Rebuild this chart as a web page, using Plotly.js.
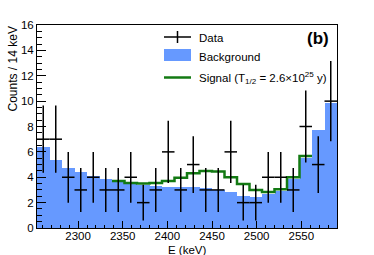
<!DOCTYPE html>
<html>
<head>
<meta charset="utf-8">
<script src="https://cdn.plot.ly/plotly-3.0.1.min.js"></script>
<style>html,body{margin:0;padding:0;background:#fff;}#chart{width:374px;height:255px;}</style>
</head>
<body>
<div id="chart"></div>
<script>
// ---- data ----
const binWidth = 14; // keV
const energy = [2261, 2275, 2289, 2303, 2317, 2331, 2345, 2359, 2373, 2387, 2401, 2415,
                2429, 2443, 2457, 2471, 2485, 2499, 2513, 2527, 2541, 2555, 2569, 2583];
const dataCounts = [7, 7, 4, 3, 4, 3, 3, 4, 2, 3, 6, 3, 5, 3, 3, 6, 2, 2, 4, 4, 3, 8, 5, 10];
const background = [6.4, 5.36, 4.75, 4.39, 4.1, 3.86, 3.6, 3.45, 3.38, 3.3, 3.25, 3.25,
                    3.25, 3.15, 3.0, 2.8, 2.55, 2.45, 2.65, 2.95, 3.9, 5.55, 7.75, 9.82];
const signalEnergy = [2345, 2359, 2373, 2387, 2401, 2415, 2429, 2443, 2457, 2471, 2485,
                      2499, 2513, 2527, 2541, 2555];
const signalTotal = [3.7, 3.55, 3.5, 3.55, 3.7, 3.97, 4.32, 4.5, 4.45, 4.0, 3.47,
                     3.0, 2.83, 3.06, 4.0, 5.67];
const xTicks = [2300, 2350, 2400, 2450, 2500, 2550];
const yTicks = [0, 2, 4, 6, 8, 10, 12, 14, 16];
const legendLabels = ['Data', 'Background', 'Signal (T<sub>1/2</sub> = 2.6×10<sup>25</sup> y)'];

// ---- style ----
const FONT = 'Liberation Sans, Arial, Helvetica, sans-serif';
const BLUE = '#6699ff';
const GREEN = '#137a13';
const W = 374, H = 255;
const M = {l: 37, r: 37, t: 25, b: 27};
const pw = W - M.l - M.r, ph = H - M.t - M.b;
const px = X => (X - M.l) / pw;
const py = Y => (H - M.b - Y) / ph;

// step line for signal: left edges + final right edge
const sigX = signalEnergy.map(e => e - binWidth / 2).concat([signalEnergy[signalEnergy.length - 1] + binWidth / 2]);
const sigY = signalTotal.concat([signalTotal[signalTotal.length - 1]]);

const traces = [
  {type: 'bar', x: energy, y: background, width: binWidth,
   marker: {color: BLUE, line: {width: 0}}, showlegend: false, hoverinfo: 'skip'},
  {type: 'scatter', mode: 'lines', x: sigX, y: sigY, line: {shape: 'hv', color: GREEN, width: 2.5},
   showlegend: false, hoverinfo: 'skip'},
  {type: 'scatter', mode: 'markers', x: energy, y: dataCounts,
   marker: {size: 1, color: '#000'},
   error_y: {type: 'data', array: dataCounts.map(v => Math.sqrt(v)), color: '#000', thickness: 1.5, width: 0},
   error_x: {type: 'constant', value: binWidth / 2, color: '#000', thickness: 1.5, width: 0},
   showlegend: false, hoverinfo: 'skip'}
];

const legX0 = 164, legX1 = 191, legTextX = 197;
const legY = [37, 55, 77.5];
const shapes = [
  {type: 'line', xref: 'paper', yref: 'paper', x0: px(legX0), x1: px(legX1), y0: py(legY[0]), y1: py(legY[0]), line: {color: '#000', width: 1.5}},
  {type: 'line', xref: 'paper', yref: 'paper', x0: px(177.5), x1: px(177.5), y0: py(legY[0] - 6), y1: py(legY[0] + 6), line: {color: '#000', width: 1.5}},
  {type: 'rect', xref: 'paper', yref: 'paper', x0: px(legX0), x1: px(legX1), y0: py(legY[1] - 6), y1: py(legY[1] + 6), fillcolor: BLUE, line: {width: 0}},
  {type: 'line', xref: 'paper', yref: 'paper', x0: px(legX0), x1: px(legX1), y0: py(legY[2]), y1: py(legY[2]), line: {color: GREEN, width: 2.5}}
];
const textY = [37.5, 57.5, 78];
const annotations = legendLabels.map((t, i) => ({
  text: t, xref: 'paper', yref: 'paper', x: px(legTextX), y: py(textY[i]),
  xanchor: 'left', yanchor: 'middle', showarrow: false, font: {family: FONT, size: 11.5, color: '#000'}
}));
annotations.push({text: '<b>(b)</b>', xref: 'paper', yref: 'paper', x: px(317.5), y: py(38),
  xanchor: 'center', yanchor: 'middle', showarrow: false, font: {family: FONT, size: 17, color: '#000'}});
annotations.push({text: 'Counts / 14 keV', xref: 'paper', yref: 'paper', x: px(12), y: 1,
  xanchor: 'center', yanchor: 'top', textangle: -90, showarrow: false, font: {family: FONT, size: 12, color: '#000'}});
annotations.push({text: 'E (keV)', xref: 'paper', yref: 'paper', x: 0.5, y: py(249.5),
  xanchor: 'center', yanchor: 'middle', showarrow: false, font: {family: FONT, size: 11.5, color: '#000'}});

const layout = {
  width: W, height: H, margin: M, paper_bgcolor: '#fff', plot_bgcolor: '#fff',
  showlegend: false, bargap: 0,
  font: {family: FONT, size: 11.5, color: '#000'},
  xaxis: {range: [2254, 2590], tickmode: 'array', tickvals: xTicks, ticktext: xTicks.map(String),
          ticks: 'inside', ticklen: 7, tickwidth: 1, tickcolor: '#000', ticklabelstandoff: -3,
          minor: {dtick: 10, ticklen: 3.5, tickwidth: 1, tickcolor: '#000', ticks: 'inside'},
          showline: true, mirror: true, linecolor: '#000', linewidth: 1,
          showgrid: false, zeroline: false, tickfont: {family: FONT, size: 11.5}},
  yaxis: {range: [0, 16], tickmode: 'array', tickvals: yTicks, ticktext: yTicks.map(String),
          ticks: 'inside', ticklen: 9, tickwidth: 1, tickcolor: '#000',
          minor: {dtick: 0.5, ticklen: 5, tickwidth: 1, tickcolor: '#000', ticks: 'inside'},
          showline: true, mirror: true, linecolor: '#000', linewidth: 1,
          showgrid: false, zeroline: false, tickfont: {family: FONT, size: 11.5}},
  shapes: shapes, annotations: annotations
};

Plotly.newPlot('chart', traces, layout, {staticPlot: true, displayModeBar: false});
</script>
</body>
</html>
